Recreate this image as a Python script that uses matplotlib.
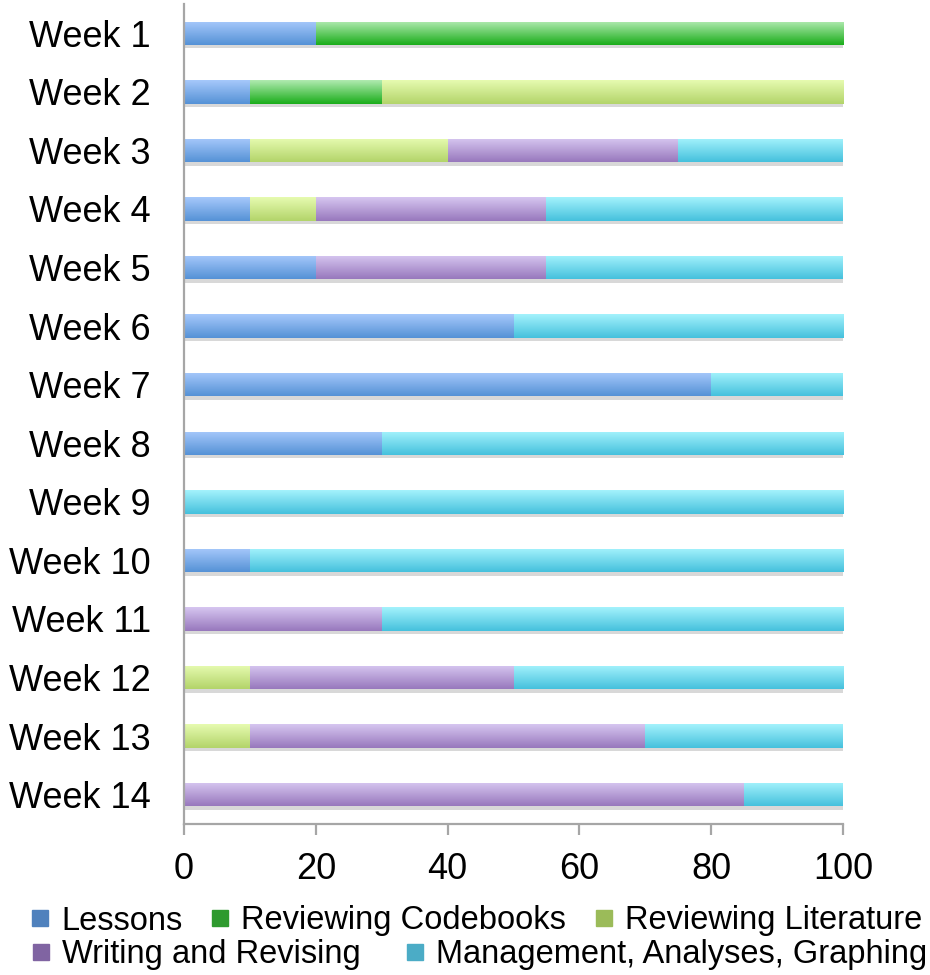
import numpy as np
import matplotlib
matplotlib.use("Agg")
import matplotlib.pyplot as plt
from matplotlib.colors import LinearSegmentedColormap
from matplotlib.lines import Line2D
import matplotlib.patheffects as pe

plt.rcParams['font.family'] = ['Liberation Sans', 'DejaVu Sans']

weeks = [f"Week {i}" for i in range(1, 15)]
series_names = ["Lessons", "Reviewing Codebooks", "Reviewing Literature",
                "Writing and Revising", "Management, Analyses, Graphing"]
lessons     = [20, 10, 10, 10, 20, 50, 80, 30, 0, 10, 0, 0, 0, 0]
codebooks   = [80, 20, 0, 0, 0, 0, 0, 0, 0, 0, 0, 0, 0, 0]
literature  = [0, 70, 30, 10, 0, 0, 0, 0, 0, 0, 0, 10, 10, 0]
writing     = [0, 0, 35, 35, 35, 0, 0, 0, 0, 0, 30, 40, 60, 85]
management  = [0, 0, 25, 45, 45, 50, 20, 70, 100, 90, 70, 50, 30, 15]
x_ticks = [0, 20, 40, 60, 80, 100]

series = [lessons, codebooks, literature, writing, management]
legend_colors = ['#4f81bd', '#2e9a2e', '#9bbb59', '#8064a2', '#4bacc6']
grad_top = ['#a6c8fb', '#b0eab0', '#e6fbb0', '#d6c6f0', '#a4f2fc']
grad_bot = ['#5592d6', '#1aad1a', '#b3d46a', '#9878bd', '#45c1dd']

fig = plt.figure(figsize=(9.3, 9.75), dpi=100)
ax = fig.add_axes([184/930, 151/975, (843-184)/930, (971-151)/975])

y = np.arange(len(weeks))
left = np.zeros(len(weeks))
grad = np.linspace(0, 1, 64).reshape(-1, 1)
for vals, ct, cb in zip(series, grad_top, grad_bot):
    vals = np.array(vals, dtype=float)
    bars = ax.barh(y, vals, left=left, height=0.4, color=cb, edgecolor='none', zorder=1)
    cmap = LinearSegmentedColormap.from_list('g', [cb, ct])
    for p in bars.patches:
        if p.get_width() <= 0:
            continue
        p.set_path_effects([pe.SimplePatchShadow(offset=(0.5, -2.5), shadow_rgbFace='#808080', alpha=0.3),
                            pe.Normal()])
        x0, y0, w, h = p.get_x(), p.get_y(), p.get_width(), p.get_height()
        im = ax.imshow(grad, cmap=cmap, aspect='auto', origin='lower',
                       extent=[x0, x0 + w, y0 + h, y0], zorder=2, interpolation='bilinear')
        im.set_clip_path(p)
    left += vals

ax.set_xlim(0, 100)
ax.set_ylim(len(weeks) - 0.5, -0.5)
ax.set_yticks(y)
ax.set_yticklabels(weeks)
ax.set_xticks(x_ticks)
ax.set_xticklabels([str(t) for t in x_ticks])

for s in ['top', 'right']:
    ax.spines[s].set_visible(False)
for s in ['left', 'bottom']:
    ax.spines[s].set_color('#a6a6a6')
    ax.spines[s].set_linewidth(1.6)

ax.tick_params(axis='y', length=0, pad=24, labelsize=26)
ax.tick_params(axis='x', length=8, width=1.6, color='#a6a6a6', direction='out', pad=12, labelsize=26)

handles = [Line2D([], [], marker='s', linestyle='', color=c, markersize=12) for c in legend_colors]
leg1 = fig.legend(handles[:3], series_names[:3], loc='center', bbox_to_anchor=(477/930, 1 - 921/975),
                  ncol=3, frameon=False, fontsize=23.5, handlelength=0.5, handletextpad=0.4,
                  columnspacing=0.9, borderpad=0, borderaxespad=0)
leg2 = fig.legend(handles[3:], series_names[3:], loc='center', bbox_to_anchor=(480/930, 1 - 955/975),
                  ncol=2, frameon=False, fontsize=23.5, handlelength=0.5, handletextpad=0.4,
                  columnspacing=1.4, borderpad=0, borderaxespad=0)

fig.savefig('out.png', dpi=100)
